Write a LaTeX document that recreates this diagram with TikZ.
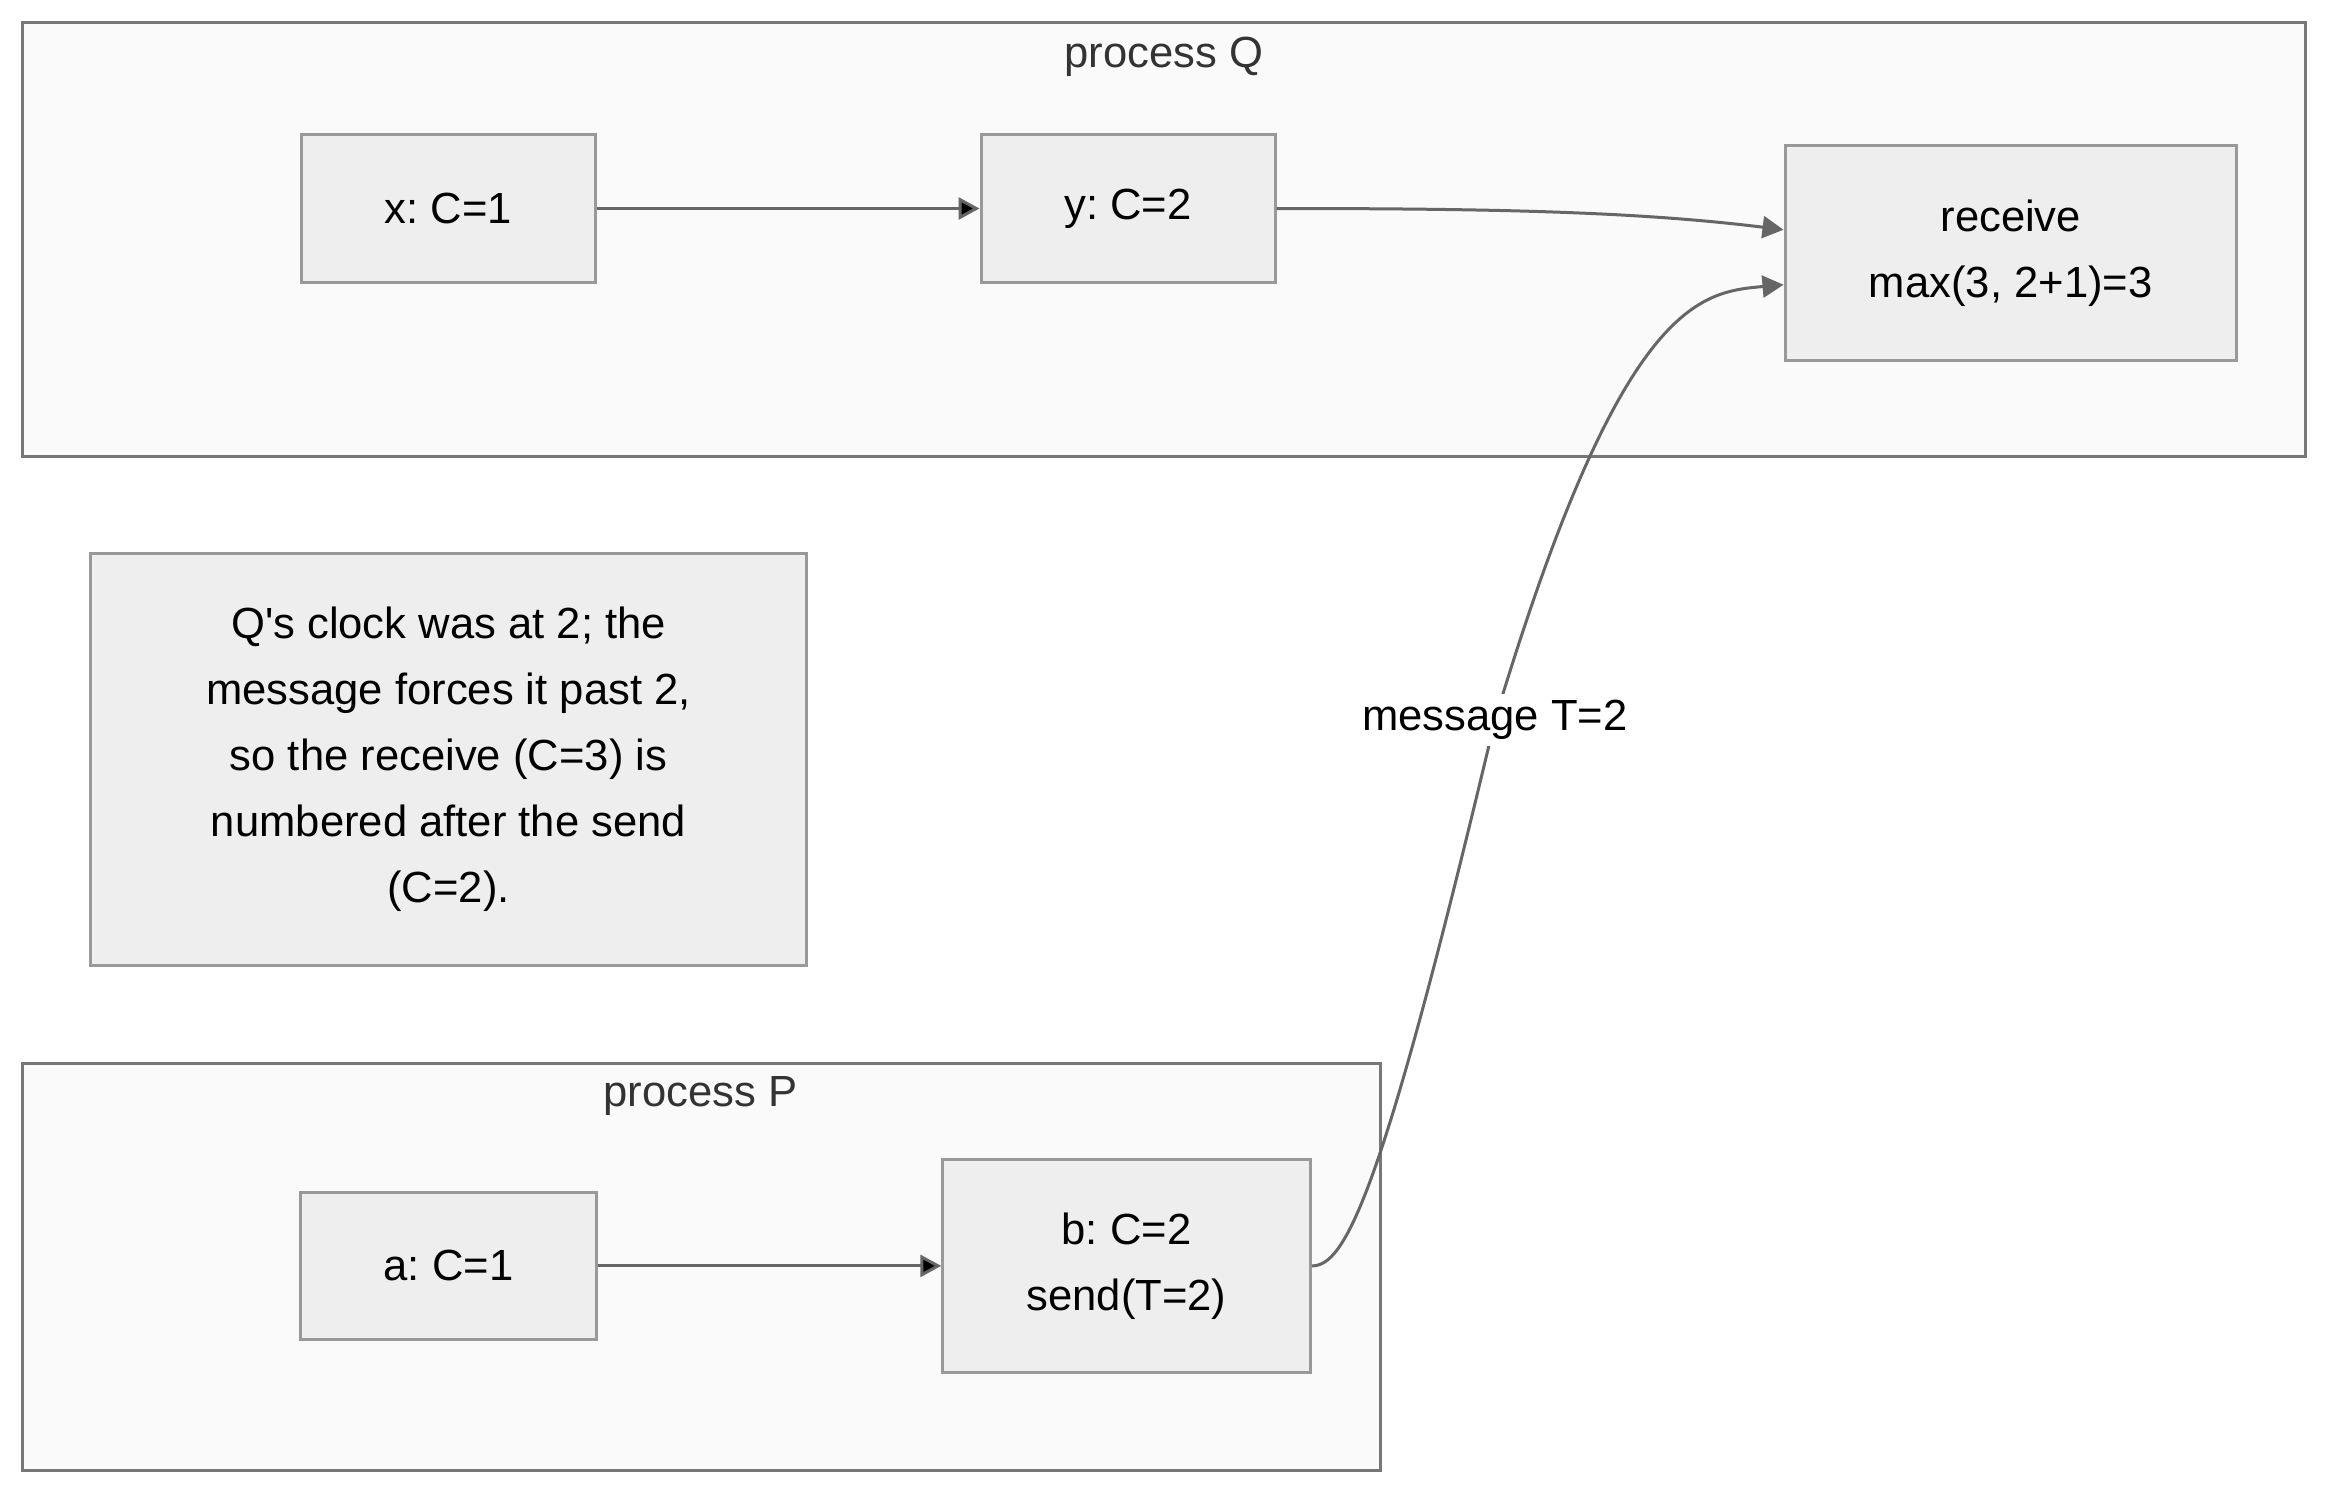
\documentclass[tikz,border=0pt]{standalone}
\usepackage{fontspec}
\setmainfont{Liberation Sans}[Ligatures=TeXOff]
\usetikzlibrary{positioning,arrows.meta,calc}
\definecolor{clusterfill}{HTML}{FAFAFA}
\definecolor{clusterline}{HTML}{777777}
\definecolor{nodefill}{HTML}{EEEEEE}
\definecolor{nodeline}{HTML}{999999}
\definecolor{edgeline}{HTML}{666666}
\definecolor{titletext}{HTML}{333333}
\frenchspacing

\begin{document}
\begin{tikzpicture}[x=0.5pt ,y=-0.5pt ,on grid ,
font=\fontsize{21.8}{33}\selectfont ,
event/.style ={ rectangle ,fill =nodefill ,draw =nodeline ,line width =1.5pt ,
  align =center ,inner sep =0pt},
cluster/.style ={ fill =clusterfill ,draw =clusterline ,line width =1.5pt},
clustertitle/.style ={ text =titletext ,inner sep =0pt},
msg/.style ={ -{Triangle[length=10.5pt ,width=11pt]} ,draw =edgeline ,line width =1.5pt},
msglabel/.style ={ fill =white ,inner sep =3pt}]
\fill[white] (0,0) rectangle (2352,1509);
\useasboundingbox (0,0) rectangle (2352,1509);

% process boxes
\draw[cluster] (22.5,22.5) rectangle (2305.5,456);
\draw[cluster] (22.5,1063.5) rectangle (1380,1470);
\node[clustertitle] (QTitle) at (1164,57) {process Q};
\node[clustertitle] (PTitle) at (700.5,1096.5) {process P};

% events
\node[event ,minimum width =147pt ,minimum height =73.5pt] (XBox) at (448.5,208.5) {x: C=1};
\node[event ,minimum width =147pt ,minimum height =73.5pt] (YBox) [right=339.75pt of XBox] {y: C=2};
\node[event ,minimum width =225.75pt ,minimum height =107.25pt] (Receive) at (2010.75,252.75) {receive\\max(3, 2+1)=3};
\node[event ,minimum width =357.75pt ,minimum height =206.25pt] (Note) [below=275.6pt of XBox]
  {Q's clock was at 2; the\\message forces it past 2,\\so the receive (C=3) is\\numbered after the send\\(C=2).};
\node[event ,minimum width =147.75pt ,minimum height =73.5pt] (ABox) [below=253.1pt of Note] {a: C=1};
\node[event ,minimum width =183.75pt ,minimum height =106.5pt] (BBox) [right=339pt of ABox] {b: C=2\\send(T=2)};

\path[msg] (XBox) edge (YBox);
\path[msg] (ABox) edge (BBox);
\draw[msg] (YBox.east) .. controls (1500,208.5) and (1640,212) .. ($(Receive.west)+(0,-23)$);

% the message
\coordinate (MsgMid) at (1495,720);
\draw[msg] (BBox.east) .. controls (1345,1266) and (1381,1200) .. (MsgMid)
  .. controls (1621,300) and (1700,292) .. ($(Receive.west)+(0,32)$);
\node[msglabel] (MsgLabel) at (MsgMid) {message T=2};
\end{tikzpicture}
\end{document}
